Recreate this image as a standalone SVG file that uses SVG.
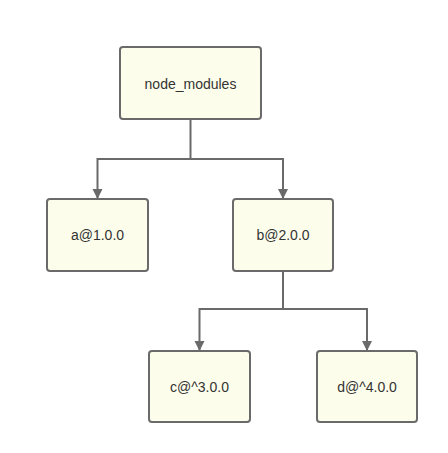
<svg xmlns="http://www.w3.org/2000/svg" width="448" height="453" viewBox="0 0 448 453">
<style>
.node rect{fill:#fdfdeb;stroke:#6a6a6a;stroke-width:2}
.node text{font-family:"Liberation Sans",Arial,sans-serif;font-size:14px;fill:#333;text-anchor:middle;dominant-baseline:central}
.edge{fill:none;stroke:#6a6a6a;stroke-width:2}
</style>
<defs>
<marker id="arr" markerWidth="10" markerHeight="12" refX="9" refY="5" orient="auto" markerUnits="userSpaceOnUse" viewBox="0 0 10 10">
<path d="M0,0 L10,5 L0,10 z" fill="#6a6a6a"/>
</marker>
</defs>
<rect width="448" height="453" fill="#fff"/>
<g id="connectors">
<path class="edge" d="M190.5,119 V159 H97.5 V198" marker-end="url(#arr)"/>
<path class="edge" d="M190.5,159 H283 V198" marker-end="url(#arr)"/>
<path class="edge" d="M283,271 V309 H199.5 V350" marker-end="url(#arr)"/>
<path class="edge" d="M283,309 H367 V350" marker-end="url(#arr)"/>
</g>
<g id="node_modules" class="node"><rect x="120" y="47" width="141" height="72" rx="3"/><text x="190.5" y="84">node_modules</text></g>
<g id="a" class="node"><rect x="47" y="199" width="101" height="72" rx="3"/><text x="97.5" y="235">a@1.0.0</text></g>
<g id="b" class="node"><rect x="233" y="199" width="100" height="72" rx="3"/><text x="283" y="235">b@2.0.0</text></g>
<g id="c" class="node"><rect x="149" y="351" width="101" height="71" rx="3"/><text x="199.5" y="387">c@^3.0.0</text></g>
<g id="d" class="node"><rect x="317" y="351" width="100" height="71" rx="3"/><text x="367" y="387">d@^4.0.0</text></g>
</svg>
